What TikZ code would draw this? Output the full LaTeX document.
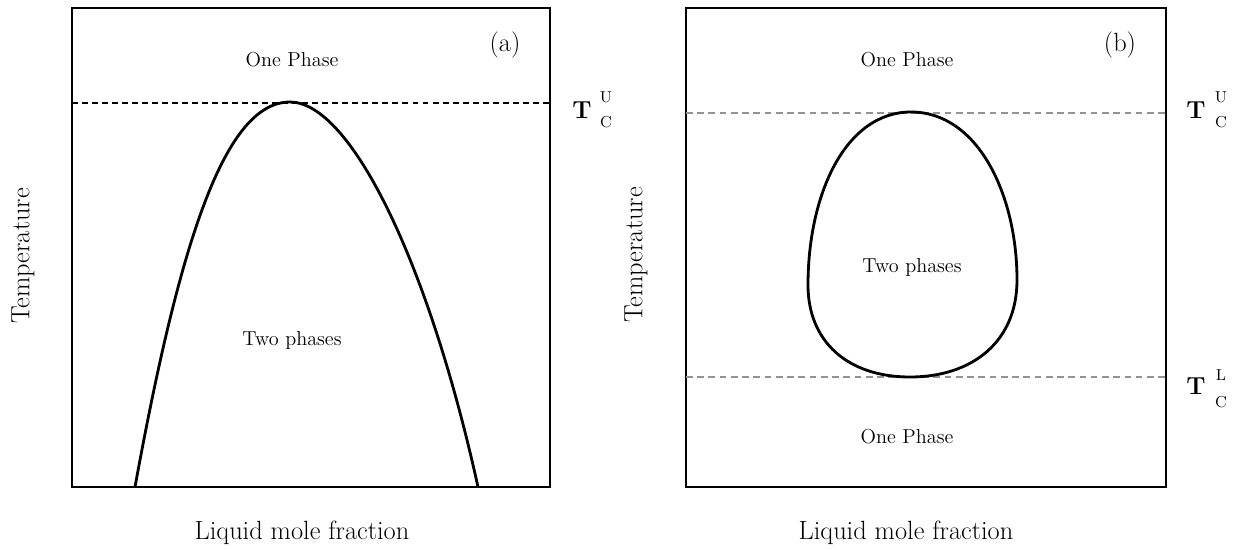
\documentclass[tikz,border=0pt]{standalone}
\begin{document}
\begin{tikzpicture}[
  x=0.02cm, y=-0.02cm,
  every node/.style={font=\fontsize{11.5}{13}\selectfont, inner sep=0pt},
  frame/.style={line width=1.4pt},
  curve/.style={line width=1.6pt, line join=round},
  crit/.style={line width=0.8pt, dash pattern=on 3.4pt off 2.3pt},
  critgray/.style={line width=1.2pt, gray!85, dash pattern=on 3.8pt off 2.6pt},
  axis/.style={font=\fontsize{15}{17}\selectfont},
  tag/.style={font=\fontsize{15}{17}\selectfont},
  tbig/.style={font=\fontsize{14}{16}\selectfont\bfseries},
  tsmall/.style={font=\fontsize{9}{10}\selectfont}]
  \useasboundingbox (0,0) rectangle (1237,550);

  % (a) 上临界点
  \draw[frame] (72,8) rectangle (550,487);
  \draw[crit] (72,103) -- (550,103);
  \draw[curve] (135,487) .. controls (180,240) and (225,102) .. (290,102)
    .. controls (350,102) and (428,260) .. (478,487);
  \node (oneA) at (292,60) {One Phase};
  \node (twoA) at (292,340) {Two phases};
  \node[tag] (tagA) at (505,45) {(a)};
  \node[axis, rotate=90] (tempA) at (23,256) {Temperature};
  \node[axis] (liqA) at (302,533) {Liquid mole fraction};
  \node[tbig] (TUa) at (582,110) {T};
  \node[tsmall] (Ua) at (606,97) {U};
  \node[tsmall] (Ca) at (606,122) {C};

  % (b) 上、下临界点
  \draw[frame] (686,8) rectangle (1166,487);
  \draw[critgray] (686,113) -- (1166,113);
  \draw[critgray] (686,377) -- (1166,377);
  \draw[curve] (911,112) .. controls (978,112) and (1017,195) .. (1017,280)
    .. controls (1017,342) and (972,377) .. (910,377)
    .. controls (848,377) and (808,342) .. (808,285)
    .. controls (808,195) and (845,112) .. (911,112) -- cycle;
  \node (oneB) at (907,60) {One Phase};
  \node (twoB) at (912,267) {Two phases};
  \node (oneC) at (907,437) {One Phase};
  \node[tag] (tagB) at (1120,45) {(b)};
  \node[axis, rotate=90] (tempB) at (636,255) {Temperature};
  \node[axis] (liqB) at (906,533) {Liquid mole fraction};
  \node[tbig] (TUb) at (1196,110) {T};
  \node[tsmall] (Ub) at (1221,97) {U};
  \node[tsmall] (Cb) at (1221,122) {C};
  \node[tbig] (TLb) at (1196,386) {T};
  \node[tsmall] (Lb) at (1221,375) {L};
  \node[tsmall] (Cl) at (1221,402) {C};
\end{tikzpicture}
\end{document}
